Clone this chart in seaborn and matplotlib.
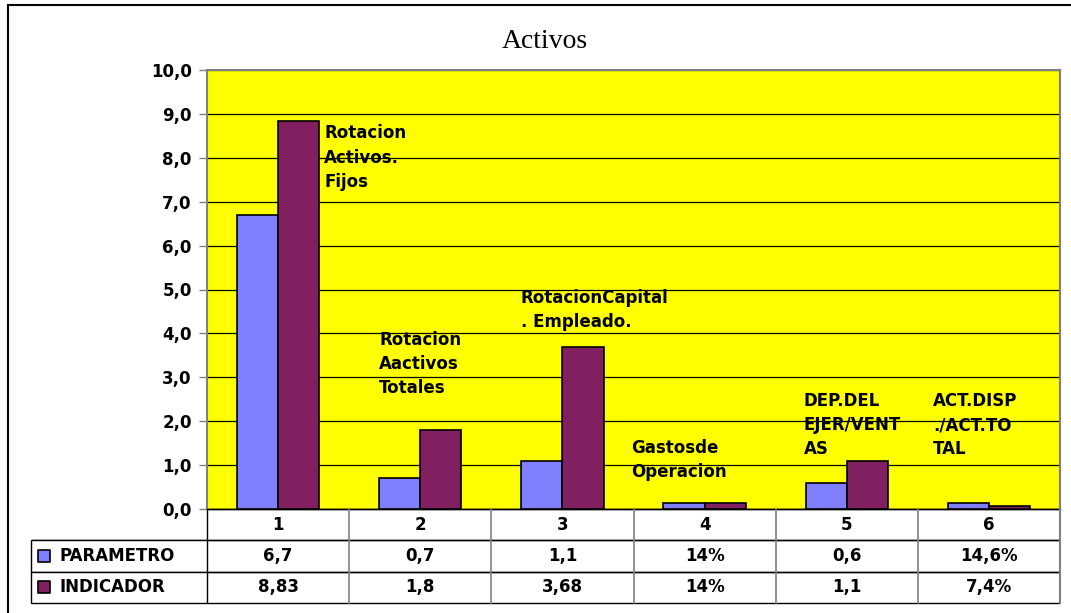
import numpy as np
import pandas as pd
import matplotlib
matplotlib.use("Agg")
import matplotlib.pyplot as plt
from matplotlib.patches import Rectangle
from matplotlib.lines import Line2D
import seaborn as sns

# ---- data ----
categories = ["1", "2", "3", "4", "5", "6"]
series_names = ["PARAMETRO", "INDICADOR"]
parametro = [6.7, 0.7, 1.1, 0.14, 0.6, 0.146]
indicador = [8.83, 1.8, 3.68, 0.14, 1.1, 0.074]
value_kind = ["num", "num", "num", "pct", "num", "pct"]
indicator_names = [
    "Rotacion\nActivos.\nFijos",
    "Rotacion\nAactivos\nTotales",
    "RotacionCapital\n. Empleado.",
    "Gastosde\nOperacion",
    "DEP.DEL\nEJER/VENT\nAS",
    "ACT.DISP\n./ACT.TO\nTAL",
]
title = "Activos"

# ---- style ----
COL_PARAM = "#8080FF"
COL_IND = "#802060"
PLOT_BG = "#FFFF00"
GRAY = "#808080"
FS = 12

sns.set_theme(style="white")
plt.rcParams["font.family"] = ["DejaVu Sans"]
plt.rcParams["font.weight"] = "bold"
plt.rcParams["text.color"] = "black"

df = pd.DataFrame({
    "cat": categories * 2,
    "serie": [series_names[0]] * len(categories) + [series_names[1]] * len(categories),
    "valor": parametro + indicador,
})

fig = plt.figure(figsize=(10.71, 6.13), dpi=100)
fig.patch.set_facecolor("white")
ax = fig.add_axes([207 / 1071, 1 - 509 / 613, 853 / 1071, 439 / 613])
ax.set_facecolor(PLOT_BG)

sns.barplot(data=df, x="cat", y="valor", hue="serie", order=categories,
            hue_order=series_names, palette=[COL_PARAM, COL_IND],
            saturation=1, width=0.58, edgecolor="black", linewidth=1.2,
            legend=False, ax=ax, zorder=3)

ax.set_xlim(-0.5, len(categories) - 0.5)
ax.set_ylim(0, 10)
ax.set_yticks(np.arange(0, 11, 1))
ax.set_yticklabels([f"{v:.1f}".replace(".", ",") for v in np.arange(0, 11, 1)],
                   fontsize=FS, fontweight="bold", color="black")
ax.set_xticks([])
ax.set_xlabel("")
ax.set_ylabel("")
ax.yaxis.grid(True, color="black", linewidth=0.9, zorder=1)
ax.set_axisbelow(True)
ax.tick_params(axis="y", which="major", left=True, length=6, width=1,
               color=GRAY, pad=5)
for side in ["top", "right", "left"]:
    ax.spines[side].set_color(GRAY)
    ax.spines[side].set_linewidth(1.5)
ax.spines["bottom"].set_color("black")
ax.spines["bottom"].set_linewidth(1.0)

# indicator names next to each pair of bars
name_pos = [(0.323, 8.0), (0.71, 3.30), (1.708, 4.53), (2.482, 1.12),
            (3.698, 1.91), (4.605, 1.91)]
for txt, (xx, yy) in zip(indicator_names, name_pos):
    ax.text(xx, yy, txt, ha="left", va="center", fontsize=FS,
            fontweight="bold", linespacing=1.45, color="black", zorder=5)

fig.text(545 / 1071, 1 - 42 / 613, title, family="Liberation Serif",
         fontweight="normal", fontsize=20, ha="center", va="center",
         color="black")


# ---- data table under the plot ----
def fmt(v, kind):
    if kind == "pct":
        return "{:g}".format(round(v * 100, 2)).replace(".", ",") + "%"
    return "{:g}".format(v).replace(".", ",")


rows = [[""] + categories,
        [series_names[0]] + [fmt(v, k) for v, k in zip(parametro, value_kind)],
        [series_names[1]] + [fmt(v, k) for v, k in zip(indicador, value_kind)]]

label_w = 176.0
col_w = 853.0 / len(categories)
total_w = label_w + col_w * len(categories)
x0 = -label_w / 853.0
tbl_h = 94.0 / 439.0
tbl = ax.table(cellText=rows, cellLoc="center",
               colWidths=[label_w / total_w] + [col_w / total_w] * len(categories),
               bbox=[x0, -tbl_h, total_w / 853.0, tbl_h])
tbl.auto_set_font_size(False)
for (r, c), cell in tbl.get_celld().items():
    cell.set_facecolor("white")
    cell.set_edgecolor("black")
    cell.set_linewidth(1.0)
    t = cell.get_text()
    t.set_fontsize(FS)
    t.set_fontweight("bold")
    t.set_color("black")
    if c == 0:
        if r == 0:
            cell.visible_edges = "BR"
        else:
            cell.visible_edges = "closed"
            cell._loc = "left"
            t.set_horizontalalignment("left")
            cell.PAD = 0.16
    else:
        cell.visible_edges = "TB"

# gray column separators of the table
trans = ax.get_xaxis_transform()
for i in range(len(categories)):
    xb = i + 0.5
    ax.add_line(Line2D([xb, xb], [-tbl_h, 0], transform=trans, color=GRAY,
                       lw=1.5 if i == len(categories) - 1 else 1.2,
                       clip_on=False, zorder=6))

# legend keys inside the row labels
key_x = (44 - 207) / 853.0
for color, yk in zip([COL_PARAM, COL_IND], [-tbl_h * 0.5, -tbl_h * 5 / 6]):
    ax.scatter([key_x], [yk], transform=ax.transAxes, marker="s", s=85,
               facecolor=color, edgecolor="black", linewidth=1.2,
               clip_on=False, zorder=7)

# outer chart frame
fig.patches.append(Rectangle((8 / 1071, -0.1), 1.2, 1 - 5 / 613 + 0.1,
                             transform=fig.transFigure, fill=False,
                             edgecolor="black", linewidth=1.5))

fig.savefig("out.png", dpi=100)
